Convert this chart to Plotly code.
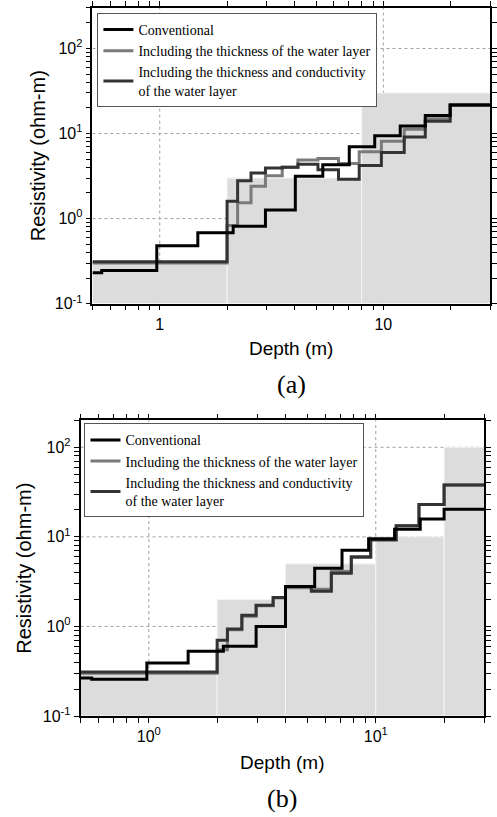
import numpy as np
import plotly.graph_objects as go

W, H = 497, 817

# ---------------- Data: panel (a) ----------------
a_layer_top = [0.5, 2.0, 8.0]
a_layer_res = [0.3, 3.0, 30.0]

a_conv_depth = [0.5, 0.55, 0.97, 1.48, 2.13, 2.97, 4.04, 5.36, 7.04, 9.15, 11.9, 15.4, 19.9]
a_conv_res   = [0.23, 0.245, 0.48, 0.68, 0.81, 1.26, 3.14, 4.3, 7.0, 9.4, 12.3, 16.3, 21.7]

a_thick_depth = [0.5, 2.0, 2.23, 2.56, 2.97, 3.53, 4.15, 5.1, 6.3, 7.8, 9.8, 12.4, 15.4, 19.9]
a_thick_res   = [0.3, 0.83, 1.53, 2.4, 3.19, 4.0, 4.9, 5.1, 4.45, 6.1, 8.1, 11.2, 14.9, 21.7]

a_cond_depth = [0.5, 2.0, 2.23, 2.56, 2.97, 3.53, 4.15, 5.1, 6.3, 7.8, 9.8, 12.4, 15.4, 19.9]
a_cond_res   = [0.31, 1.6, 2.79, 3.43, 3.92, 4.0, 4.36, 3.75, 2.9, 4.2, 6.0, 9.1, 13.9, 21.7]

# ---------------- Data: panel (b) ----------------
b_layer_top = [0.5, 2.0, 4.0, 10.0, 20.0]
b_layer_res = [0.3, 2.0, 5.0, 10.0, 100.0]

b_conv_depth = [0.5, 0.56, 0.98, 1.49, 2.13, 2.97, 4.0, 5.38, 7.1, 9.3, 12.1, 15.7, 20.0]
b_conv_res   = [0.265, 0.258, 0.39, 0.53, 0.60, 1.0, 2.8, 4.45, 7.07, 9.5, 12.2, 15.8, 20.3]

b_thick_depth = [0.5, 2.0, 2.22, 2.57, 2.97, 3.53, 4.0, 5.2, 6.37, 7.8, 9.5, 12.3, 15.5, 20.0]
b_thick_res   = [0.3, 0.55, 0.92, 1.30, 1.70, 2.08, 2.7, 2.6, 4.1, 5.9, 9.2, 13.3, 23.0, 38.0]

b_cond_depth = [0.5, 2.0, 2.22, 2.57, 2.97, 3.53, 4.0, 5.2, 6.37, 7.8, 9.5, 12.3, 15.5, 20.0]
b_cond_res   = [0.31, 0.70, 0.935, 1.33, 1.72, 2.1, 2.8, 2.47, 3.92, 5.98, 9.3, 13.3, 23.0, 38.0]

x_max = 30.0
series_names = ["Conventional",
                "Including the thickness of the water layer",
                "Including the thickness and conductivity<br>of the water layer"]
series_colors = ["#000000", "#7a7a7a", "#333333"]

# tick values / labels
x_major = [1, 10]
y_major = [0.1, 1, 10, 100]
minor_vals = [m * 10.0 ** e for e in range(-2, 3) for m in range(2, 10)]

# axis ranges (log10)
a_xr = [np.log10(0.5), np.log10(30)]
a_yr = [-1, np.log10(300)]
b_xr = [np.log10(0.5), np.log10(30)]
b_yr = [-1, np.log10(200)]

fig = go.Figure()


def add_grid(xr, yr, xa, ya):
    lo_x, hi_x = 10 ** xr[0], 10 ** xr[1]
    lo_y, hi_y = 10 ** yr[0], 10 ** yr[1]
    gx, gy = [], []
    for v in x_major:
        if lo_x < v < hi_x:
            gx += [v, v, None]
            gy += [lo_y, hi_y, None]
    for v in y_major:
        if lo_y < v < hi_y:
            gx += [lo_x, hi_x, None]
            gy += [v, v, None]
    fig.add_trace(go.Scatter(x=gx, y=gy, mode="lines",
                             line=dict(color="#a0a0a0", width=1, dash="dot"),
                             xaxis=xa, yaxis=ya, showlegend=False, hoverinfo="skip"))


def add_layers(tops, res, xa, ya, ybottom):
    edges = list(tops) + [x_max * 1.5]
    for i, r in enumerate(res):
        x0, x1 = edges[i], edges[i + 1]
        fig.add_trace(go.Scatter(
            x=[x0, x0, x1, x1, x0], y=[ybottom, r, r, ybottom, ybottom],
            mode="lines", fill="toself", fillcolor="#dcdcdc",
            line=dict(color="#f4f4f4", width=1),
            xaxis=xa, yaxis=ya, showlegend=False, hoverinfo="skip"))


def add_steps(depths, vals, name, color, xa, ya, legend, rank):
    xs = list(depths) + [x_max]
    ys = list(vals) + [vals[-1]]
    fig.add_trace(go.Scatter(
        x=xs, y=ys, mode="lines", line=dict(color=color, width=3, shape="hv"),
        name=name, xaxis=xa, yaxis=ya, legend=legend, legendrank=rank))


add_grid(a_xr, a_yr, "x", "y")
add_grid(b_xr, b_yr, "x2", "y2")
add_layers(a_layer_top, a_layer_res, "x", "y", 10 ** a_yr[0])
add_layers(b_layer_top, b_layer_res, "x2", "y2", 10 ** b_yr[0])

a_series = [(a_conv_depth, a_conv_res), (a_thick_depth, a_thick_res), (a_cond_depth, a_cond_res)]
b_series = [(b_conv_depth, b_conv_res), (b_thick_depth, b_thick_res), (b_cond_depth, b_cond_res)]
order = [1, 2, 0]
for i in order:
    add_steps(*a_series[i], series_names[i], series_colors[i], "x", "y", "legend", i + 1)
for i in order:
    add_steps(*b_series[i], series_names[i], series_colors[i], "x2", "y2", "legend2", i + 1)

sup = lambda v: "10<sup>%d</sup>" % round(np.log10(v))


def ticks(major, labels):
    vals = list(major) + minor_vals
    text = list(labels) + [""] * len(minor_vals)
    return vals, text


ax_x_a = ticks(x_major, ["1", "10"])
ax_x_b = ticks(x_major, [sup(v) for v in x_major])
ax_y = ticks(y_major, [sup(v) for v in y_major])

axis_common = dict(
    type="log", showline=True, linecolor="black", linewidth=1.5, mirror="ticks",
    ticks="outside", ticklen=5, tickwidth=1.1, tickcolor="black",
    showgrid=False, zeroline=False, tickmode="array",
    tickfont=dict(family="Liberation Sans", size=16, color="black"),
)

legend_common = dict(xanchor="left", yanchor="top",
                     bgcolor="white", bordercolor="#555", borderwidth=1,
                     font=dict(family="Liberation Serif", size=14, color="black"),
                     tracegroupgap=0, itemwidth=30, traceorder="normal")

fig.update_layout(
    width=W, height=H, margin=dict(l=0, r=0, t=0, b=0),
    paper_bgcolor="white", plot_bgcolor="white",
    font=dict(family="Liberation Sans", color="black"),
    xaxis=dict(axis_common, domain=[93 / W, 493 / W], range=a_xr, anchor="y",
               tickvals=ax_x_a[0], ticktext=ax_x_a[1],
               title=dict(text="Depth (m)", font=dict(size=19), standoff=10)),
    yaxis=dict(axis_common, domain=[1 - 307 / H, 1 - 8 / H], range=a_yr, anchor="x",
               tickvals=ax_y[0], ticktext=ax_y[1],
               title=dict(text="Resistivity (ohm-m)", font=dict(size=20), standoff=4)),
    xaxis2=dict(axis_common, domain=[81 / W, 487 / W], range=b_xr, anchor="y2",
                tickvals=ax_x_b[0], ticktext=ax_x_b[1],
                title=dict(text="Depth (m)", font=dict(size=19), standoff=12)),
    yaxis2=dict(axis_common, domain=[1 - 724 / H, 1 - 425 / H], range=b_yr, anchor="x2",
                tickvals=ax_y[0], ticktext=ax_y[1],
                title=dict(text="Resistivity (ohm-m)", font=dict(size=20), standoff=6)),
    legend=dict(legend_common, x=98 / W, y=1 - 13 / H),
    legend2=dict(legend_common, x=85 / W, y=1 - 428 / H),
    showlegend=True,
)

fig.add_annotation(text="(a)", x=0.5 * (93 + 493) / W, y=1 - 389 / H, xref="paper", yref="paper",
                   yanchor="middle", showarrow=False,
                   font=dict(family="Liberation Serif", size=26, color="black"))
fig.add_annotation(text="(b)", x=0.5 * (81 + 487) / W, y=1 - 807 / H, xref="paper", yref="paper",
                   yanchor="middle", showarrow=False,
                   font=dict(family="Liberation Serif", size=26, color="black"))

fig.write_html("out.html")
